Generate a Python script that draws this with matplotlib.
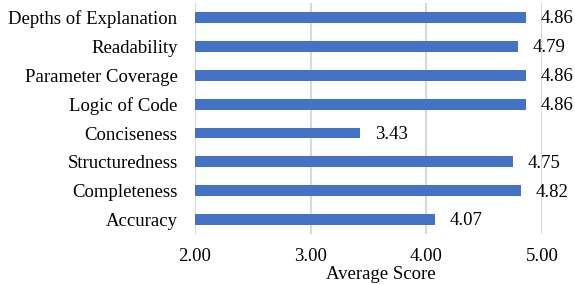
import matplotlib.pyplot as plt

categories = ['Accuracy', 'Completeness', 'Structuredness', 'Conciseness',
              'Logic of Code', 'Parameter Coverage', 'Readability',
              'Depths of Explanation']
scores = [4.07, 4.82, 4.75, 3.43, 4.86, 4.86, 4.79, 4.86]
x_ticks = [2.0, 3.0, 4.0, 5.0]

plt.rcParams['font.family'] = ['Liberation Serif', 'DejaVu Serif']
FS = 13.5

fig = plt.figure(figsize=(5.75, 2.84), dpi=100)
ax = fig.add_axes([0.339, 0.176, 0.604, 0.813])

ypos = list(range(len(categories)))
ax.barh(ypos, [s - 2.0 for s in scores], left=2.0, height=0.38,
        color='#4472C4', zorder=3)

for y, s in zip(ypos, scores):
    ax.annotate(f'{s:.2f}', xy=(s, y), xytext=(10.5, -1), textcoords='offset points',
                ha='left', va='center', fontsize=FS, color='#000000')

ax.set_xlim(2.0, 5.0)
ax.set_ylim(-0.5, 7.5)
ax.set_xticks(x_ticks)
ax.set_xticklabels([f'{t:.2f}' for t in x_ticks], fontsize=FS)
ax.set_yticks(ypos)
ax.set_yticklabels(categories, fontsize=FS)
ax.tick_params(axis='x', length=0, pad=10)
ax.tick_params(axis='y', length=0, pad=12.5)

ax.grid(axis='x', color='#d9d9d9', linewidth=1.5, zorder=0)
for sp in ax.spines.values():
    sp.set_visible(False)

ax.set_xlabel('Average Score', fontsize=FS)
ax.xaxis.set_label_coords(0.536, -0.14)

fig.savefig('out.png', dpi=100)
